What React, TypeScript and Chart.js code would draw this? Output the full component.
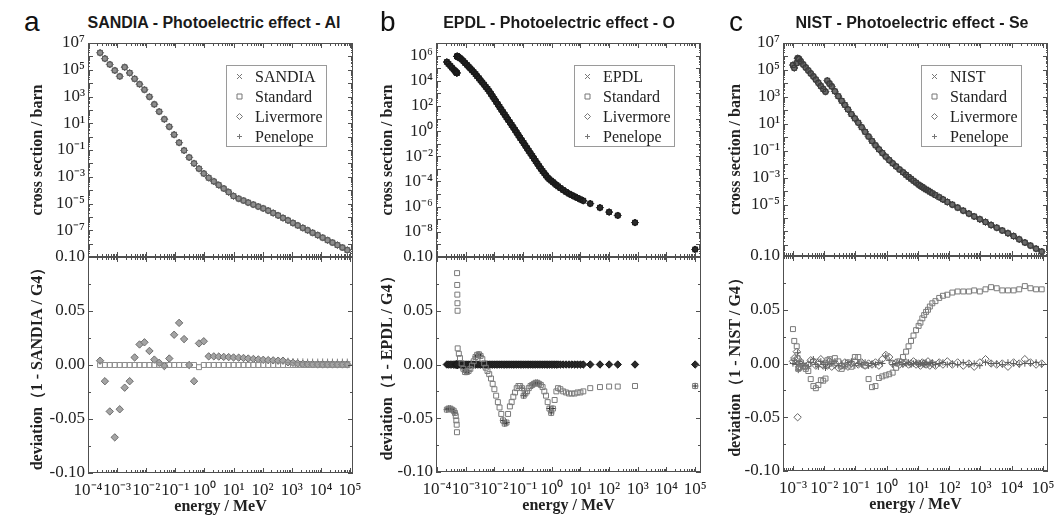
import React, { useEffect, useRef } from 'react';
import { Chart, registerables } from 'chart.js';

Chart.register(...registerables);

// ---------------- DATA ----------------
const MODEL_LABELS = ['Standard', 'Livermore', 'Penelope'];

// Panel a : SANDIA - Al
const energyA = [
  2.6e-4, 3.8e-4, 5.6e-4, 8.3e-4, 1.23e-3, 1.82e-3, 2.7e-3, 4.0e-3, 5.9e-3, 8.7e-3,
  0.0129, 0.019, 0.028, 0.042, 0.062, 0.091, 0.135, 0.2, 0.3, 0.44,
  0.65, 0.95, 1.4, 2.1, 3.1, 4.6, 6.8, 10, 15, 22,
  32, 48, 71, 105, 155, 230, 340, 500, 740, 1100,
  1600, 2400, 3500, 5200, 7800, 11500, 17000, 25000, 37000, 55000, 81000,
];
const sigmaA = [
  1.86e6, 6.8e5, 2.5e5, 8.9e4, 3.2e4, 1.55e5, 5.8e4, 2.1e4, 8.3e3, 3.2e3,
  950, 260, 74, 20, 5.5, 1.4, 0.355, 0.093, 0.028, 0.010,
  0.004, 0.00174, 8.3e-4, 4.5e-4, 2.4e-4, 1.32e-4, 7.1e-5, 3.6e-5, 2.3e-5, 1.66e-5,
  1.17e-5, 8.3e-6, 5.9e-6, 4.3e-6, 2.95e-6, 1.95e-6, 1.29e-6, 8.3e-7, 5.5e-7, 3.5e-7,
  2.3e-7, 1.5e-7, 1.0e-7, 6.5e-8, 4.3e-8, 2.8e-8, 1.8e-8, 1.2e-8, 7.8e-9, 5.1e-9, 3.3e-9,
];
const devStdA = [
  0, 0, 0, 0, 0, 0, 0, 0, 0, 0,
  0, 0, 0, 0, 0, 0, 0, 0, 0, 0,
  -0.002, 0, 0, 0, 0, 0, 0, 0, 0, 0,
  0, 0, 0, 0, 0, 0, 0, 0, 0, 0,
  0, 0, 0, 0, 0, 0, 0, 0, 0, 0, 0,
];
const devLivA = [
  0.004, -0.015, -0.043, -0.067, -0.041, -0.021, -0.015, 0.007, 0.019, 0.021,
  0.013, 0.005, 0.002, -0.001, 0.006, 0.028, 0.039, 0.024, 0.0, -0.015,
  0.02, 0.022, 0.008, 0.008, 0.0078, 0.0075, 0.0073, 0.007, 0.0068, 0.0065,
  0.006, 0.0056, 0.0052, 0.0048, 0.0045, 0.0043, 0.004, 0.004, 0.0025, 0.002,
  0.0015, 0.001, 0.0008, 0.0006, 0.0005, 0.0005, 0.0005, 0.0005, 0.0005, 0.0005, 0.0005,
];
const devPenA = [
  0.004, -0.015, -0.043, -0.067, -0.041, -0.021, -0.015, 0.007, 0.019, 0.021,
  0.013, 0.005, 0.002, -0.001, 0.006, 0.028, 0.039, 0.024, 0.0, -0.015,
  0.02, 0.022, 0.008, 0.008, 0.0078, 0.0075, 0.0073, 0.007, 0.0068, 0.0065,
  0.006, 0.0056, 0.0052, 0.0048, 0.0045, 0.0043, 0.004, 0.004, 0.0038, 0.0035,
  0.0033, 0.0032, 0.003, 0.003, 0.003, 0.0031, 0.003, 0.003, 0.0029, 0.003, 0.003,
];

// Panel b : EPDL - O
const energyB = [
  2.2e-4, 2.5e-4, 2.9e-4, 3.3e-4, 3.8e-4, 4.2e-4, 4.5e-4, 4.7e-4, 4.85e-4, 4.95e-4,
  5.0e-4, 5.05e-4, 5.1e-4, 5.15e-4, 5.2e-4, 5.25e-4, 5.75e-4, 6.3e-4, 7.2e-4, 8.3e-4,
  9.5e-4, 1.1e-3, 1.26e-3, 1.45e-3, 1.66e-3, 1.9e-3, 2.2e-3, 2.5e-3, 2.9e-3, 3.3e-3,
  3.8e-3, 4.4e-3, 5.0e-3, 5.75e-3, 6.6e-3, 7.6e-3, 8.7e-3, 0.01, 0.0115, 0.0132,
  0.0151, 0.0174, 0.02, 0.023, 0.0263, 0.03, 0.0347, 0.04, 0.0457, 0.0525,
  0.06, 0.069, 0.079, 0.091, 0.105, 0.12, 0.138, 0.158, 0.182, 0.209,
  0.24, 0.275, 0.316, 0.363, 0.417, 0.479, 0.55, 0.63, 0.72, 0.83,
  0.955, 1.1, 1.26, 1.45, 1.66, 2.0, 2.5, 3.16, 4.0, 5.0,
  6.3, 7.9, 10, 12.6, 22, 48, 100, 200, 800, 1e5,
];
const sigmaB = [
  3.1e5, 2.2e5, 1.55e5, 1.1e5, 7.8e4, 6.2e4, 5.2e4, 4.7e4, 4.2e4, 4.1e4,
  8.9e5, 8.7e5, 8.7e5, 8.5e5, 8.3e5, 8.3e5, 7.2e5, 6.2e5, 5.0e5, 3.6e5,
  2.57e5, 1.85e5, 1.32e5, 9.5e4, 6.8e4, 4.9e4, 3.4e4, 2.3e4, 1.57e4, 1.07e4,
  7.2e3, 4.9e3, 3.3e3, 2.26e3, 1.47e3, 910, 564, 350, 217, 135,
  84, 52, 32, 20, 12.7, 8.0, 5.0, 3.1, 1.96, 1.23,
  0.76, 0.47, 0.29, 0.18, 0.113, 0.07, 0.0436, 0.027, 0.017, 0.0106,
  6.65e-3, 4.17e-3, 2.6e-3, 1.64e-3, 1.02e-3, 6.7e-4, 4.5e-4, 3.0e-4, 2.04e-4, 1.5e-4,
  1.15e-4, 8.9e-5, 6.8e-5, 5.25e-5, 4.1e-5, 3.0e-5, 2.1e-5, 1.48e-5, 1.06e-5, 8.2e-6,
  6.3e-6, 4.9e-6, 3.76e-6, 2.96e-6, 1.74e-6, 8.3e-7, 3.7e-7, 2.0e-7, 5.4e-8, 4.0e-10,
];
const devStdB = [
  -0.042, -0.041, -0.041, -0.042, -0.043, -0.045, -0.048, -0.052, -0.056, -0.063,
  0.085, 0.074, 0.065, 0.057, 0.05, 0.015, 0.01, 0.006, 0.001, -0.004,
  -0.007, -0.007, -0.006, -0.004, -0.001, 0.003, 0.007, 0.009, 0.0095, 0.008,
  0.005, 0.001, -0.003, -0.006, -0.009, -0.013, -0.018, -0.023, -0.029, -0.035,
  -0.04, -0.046, -0.052, -0.055, -0.054, -0.046, -0.039, -0.035, -0.03, -0.026,
  -0.022, -0.02, -0.02, -0.022, -0.029, -0.027, -0.025, -0.022, -0.02, -0.019,
  -0.018, -0.017, -0.017, -0.018, -0.019, -0.021, -0.025, -0.029, -0.035, -0.041,
  -0.045, -0.041, -0.033, -0.025, -0.022, -0.023, -0.025, -0.026, -0.027, -0.027,
  -0.027, -0.026, -0.026, -0.025, -0.022, -0.021, -0.0205, -0.0205, -0.02, -0.02,
];
const devLivB = [
  0, 0, 0, 0, 0, 0, 0, 0, 0, 0,
  0, 0, 0, 0, 0, 0, 0, 0, 0, 0,
  0, 0, 0, 0, 0, 0, 0, 0, 0, 0,
  0, 0, 0, 0, 0, 0, 0, 0, 0, 0,
  0, 0, 0, 0, 0, 0, 0, 0, 0, 0,
  0, 0, 0, 0, 0, 0, 0, 0, 0, 0,
  0, 0, 0, 0, 0, 0, 0, 0, 0, 0,
  0, 0, 0, 0, 0, 0, 0, 0, 0, 0,
  0, 0, 0, 0, 0, 0, 0, 0, 0, 0,
];
const devPenB = [
  -0.042, -0.041, -0.041, -0.042, -0.043, -0.045, 0, 0, 0, 0,
  0, 0, 0, 0, 0, 0, 0, 0, 0, -0.004,
  -0.007, -0.007, -0.006, 0, 0, 0, 0.007, 0.009, 0.0095, 0.008,
  0, 0, 0, 0, 0, 0, 0, 0, 0, 0,
  0, 0, -0.052, -0.055, -0.054, 0, 0, 0, 0, 0,
  0, 0, 0, -0.022, -0.029, -0.027, 0, 0, 0, -0.019,
  -0.018, -0.017, -0.017, -0.018, 0, 0, 0, 0, 0, -0.041,
  -0.045, -0.041, 0, 0, 0, 0, 0, 0, 0, 0,
  0, 0, 0, 0, 0, 0, 0, 0, 0, -0.02,
];

// Panel c : NIST - Se
const energyC = [
  1.0e-3, 1.1e-3, 1.32e-3, 1.41e-3, 1.48e-3, 1.58e-3, 1.78e-3, 2.14e-3, 2.57e-3, 3.1e-3,
  3.7e-3, 4.5e-3, 5.4e-3, 6.5e-3, 7.8e-3, 9.3e-3, 0.011, 0.0126, 0.0148, 0.0174,
  0.0219, 0.0282, 0.0363, 0.0457, 0.0575, 0.0741, 0.0955, 0.123, 0.158, 0.204,
  0.263, 0.339, 0.437, 0.562, 0.724, 0.933, 1.2, 1.55, 2.0, 2.57,
  3.31, 4.17, 5.0, 6.0, 7.2, 8.7, 10.5, 12, 13.8, 15.8,
  18.2, 20.9, 24, 28.8, 36.3, 47.9, 63, 87, 126, 186,
  282, 427, 631, 955, 1450, 2190, 3310, 5010, 7590, 11500,
  17400, 26300, 39800, 60300, 91200,
];
const sigmaC = [
  2.3e5, 1.4e5, 3.2e5, 7.4e5, 7.1e5, 6.3e5, 4.2e5, 2.5e5, 1.5e5, 9.1e4,
  5.5e4, 3.3e4, 1.9e4, 1.1e4, 6.3e3, 3.8e3, 2.4e3, 1.6e4, 9.5e3, 5.9e3,
  2.6e3, 1.12e3, 500, 250, 117, 52, 25, 12, 5.5, 2.5,
  1.12, 0.52, 0.25, 0.126, 0.068, 0.036, 0.02, 0.0115, 6.8e-3, 4.0e-3,
  2.5e-3, 1.6e-3, 1.12e-3, 8.1e-4, 5.8e-4, 4.2e-4, 3.0e-4, 2.45e-4, 2.0e-4, 1.6e-4,
  1.3e-4, 1.1e-4, 8.9e-5, 6.9e-5, 5.0e-5, 3.5e-5, 2.4e-5, 1.55e-5, 9.8e-6, 5.9e-6,
  3.5e-6, 2.1e-6, 1.3e-6, 8.1e-7, 5.0e-7, 3.0e-7, 1.9e-7, 1.17e-7, 7.4e-8, 4.5e-8,
  2.6e-8, 1.5e-8, 8.9e-9, 5.2e-9, 3.2e-9,
];
const devStdC = [
  0.032, 0.021, 0.016, 0.005, -0.005, -0.004, 0.001, -0.003, -0.005, -0.007,
  -0.0145, -0.021, -0.023, -0.02, -0.0155, -0.016, -0.014, 0.003, 0.004, 0.001,
  0.005, 0.002, -0.005, -0.002, 0.001, -0.003, 0.006, 0.006, 0.0, -0.002,
  -0.0145, -0.022, -0.021, -0.0135, -0.012, -0.011, -0.01, -0.0085, -0.004, 0.002,
  0.006, 0.011, 0.016, 0.021, 0.026, 0.031, 0.035, 0.038, 0.042, 0.045,
  0.048, 0.05, 0.053, 0.056, 0.058, 0.061, 0.063, 0.064, 0.066, 0.067,
  0.067, 0.067, 0.068, 0.067, 0.069, 0.071, 0.07, 0.068, 0.068, 0.068,
  0.069, 0.072, 0.07, 0.069, 0.069,
];
const devLivC = [
  0.002, 0.005, 0.011, -0.05, 0.004, -0.003, -0.001, -0.002, -0.003, -0.001,
  0.003, 0.002, -0.002, 0.001, 0.004, -0.002, 0.0, -0.002, 0.002, -0.003,
  -0.001, -0.004, -0.002, 0.001, -0.003, 0.0, 0.002, -0.001, 0.001, -0.002,
  0.0, -0.001, 0.001, -0.002, 0.004, 0.008, 0.006, 0.0, 0.001, -0.001,
  0.0, 0.001, -0.001, 0.0, 0.002, -0.001, 0.0, -0.002, 0.001, 0.0,
  -0.001, 0.002, -0.002, 0.0, -0.002, 0.001, -0.001, 0.002, -0.001, 0.001,
  -0.002, 0.0, -0.003, 0.001, 0.004, 0.0, -0.001, 0.0, -0.003, 0.001,
  0.0, 0.004, 0.001, -0.001, 0.0,
];
const devPenC = [
  0.0, 0.003, -0.001, 0.01, -0.006, 0.002, -0.002, 0.0, -0.002, -0.003,
  0.001, 0.004, -0.001, -0.003, 0.002, -0.001, -0.004, 0.001, -0.001, 0.0,
  0.002, -0.002, 0.0, -0.003, 0.001, 0.002, -0.002, 0.0, -0.001, 0.001,
  -0.002, 0.0, -0.001, 0.001, 0.0, 0.007, 0.003, -0.001, 0.0, 0.001,
  -0.001, 0.0, 0.001, -0.001, 0.0, 0.001, -0.001, 0.0, 0.0, -0.001,
  0.001, -0.001, 0.0, 0.001, -0.001, 0.0, 0.001, -0.001, 0.0, -0.001,
  0.001, -0.001, 0.0, -0.002, 0.001, 0.0, 0.0, -0.001, 0.001, 0.0,
  -0.001, 0.0, 0.0, 0.001, -0.001,
];

// Tick labels
const xTickExpAB = [-4, -3, -2, -1, 0, 1, 2, 3, 4, 5];
const xTickExpC = [-3, -2, -1, 0, 1, 2, 3, 4, 5];
const yTickExpA = [7, 5, 3, 1, -1, -3, -5, -7];
const yTickExpB = [6, 4, 2, 0, -2, -4, -6, -8];
const yTickExpC = [7, 5, 3, 1, -1, -3, -5];
const devTicks = [0.1, 0.05, 0, -0.05, -0.1];

// ---------------- STYLE / LAYOUT ----------------
const W = 1064;
const H = 515;
const YW = 62; // y-axis box width
const XH = 42; // x-axis box height
const SERIF = '"Liberation Serif", "Times New Roman", serif';
const SANS = '"Liberation Sans", Arial, sans-serif';
const TICK_FONT = { family: SERIF, size: 17 };
const AXIS_TITLE_FONT = { family: SERIF, size: 16, weight: 'bold', lineHeight: 1 };

const SUP: Record<string, string> = {
  '-': '\u207B', '0': '\u2070', '1': '\u00B9', '2': '\u00B2', '3': '\u00B3',
  '4': '\u2074', '5': '\u2075', '6': '\u2076', '7': '\u2077', '8': '\u2078', '9': '\u2079',
};
const sup = (n: number) => String(n).split('').map((c) => SUP[c]).join('');
const pow10Label = (v: number) => '10' + sup(Math.round(Math.log10(v)));

const PANELS = [
  {
    key: 'a', ref: 'SANDIA', title: 'SANDIA - Photoelectric effect - Al', titleX: 214, letterX: 24,
    geo: { l: 88, r: 353, t: 43, m: 257, b: 473 },
    xMin: 1e-4, xMax: 1.27e5, yMin: 1e-9, yMax: 1e7,
    xExps: xTickExpAB, yExps: yTickExpA,
    energy: energyA, sigma: sigmaA, std: devStdA, liv: devLivA, pen: devPenA,
    topColor: '#5c5c5c', topFill: '#8e8e8e',
    stdColor: '#8c8c8c', livColor: '#6e6e6e', livFill: '#a4a4a4', penColor: '#808080', titlePad: 4,
  },
  {
    key: 'b', ref: 'EPDL', title: 'EPDL - Photoelectric effect - O', titleX: 559, letterX: 380,
    geo: { l: 436, r: 701, t: 43, m: 257, b: 472 },
    xMin: 9.2e-5, xMax: 1.6e5, yMin: 1e-10, yMax: 1e7,
    xExps: xTickExpAB, yExps: yTickExpB,
    energy: energyB, sigma: sigmaB, std: devStdB, liv: devLivB, pen: devPenB,
    topColor: '#1a1a1a', topFill: '#2a2a2a',
    stdColor: '#7a7a7a', livColor: '#1a1a1a', livFill: '#2a2a2a', penColor: '#2a2a2a', titlePad: 6,
  },
  {
    key: 'c', ref: 'NIST', title: 'NIST - Photoelectric effect - Se', titleX: 912, letterX: 729,
    geo: { l: 783, r: 1048, t: 43, m: 256, b: 471 },
    xMin: 4.8e-4, xMax: 1.45e5, yMin: 1.5e-9, yMax: 1e7,
    xExps: xTickExpC, yExps: yTickExpC,
    energy: energyC, sigma: sigmaC, std: devStdC, liv: devLivC, pen: devPenC,
    topColor: '#3c3c3c', topFill: '#6a6a6a',
    stdColor: '#7a7a7a', livColor: '#666666', livFill: 'rgba(0,0,0,0)', penColor: '#5a5a5a', titlePad: 7,
  },
];

function drawMarker(ctx: any, style: string, x: number, y: number, r: number, color: string) {
  ctx.save();
  ctx.strokeStyle = color;
  ctx.lineWidth = 1;
  ctx.beginPath();
  if (style === 'crossRot') {
    ctx.moveTo(x - r, y - r); ctx.lineTo(x + r, y + r);
    ctx.moveTo(x + r, y - r); ctx.lineTo(x - r, y + r);
  } else if (style === 'rect') {
    ctx.rect(x - r, y - r, 2 * r, 2 * r);
  } else if (style === 'rectRot') {
    ctx.moveTo(x, y - r - 0.5); ctx.lineTo(x + r + 0.5, y); ctx.lineTo(x, y + r + 0.5); ctx.lineTo(x - r - 0.5, y);
    ctx.closePath();
  } else {
    ctx.moveTo(x - r, y); ctx.lineTo(x + r, y);
    ctx.moveTo(x, y - r); ctx.lineTo(x, y + r);
  }
  ctx.stroke();
  ctx.restore();
}

function frameTicksPlugin() {
  return {
    id: 'frameTicks',
    afterDatasetsDraw(chart: any) {
      const { ctx, chartArea } = chart;
      const { left, top, right, bottom } = chartArea;
      ctx.save();
      ctx.strokeStyle = '#505050';
      ctx.lineWidth = 1;
      ctx.beginPath();
      const xs = chart.scales.x;
      const lo = Math.floor(Math.log10(xs.min));
      const hi = Math.ceil(Math.log10(xs.max));
      for (let e = lo; e <= hi; e++) {
        for (let k = 1; k <= 9; k++) {
          const v = k * Math.pow(10, e);
          if (v < xs.min * 0.999 || v > xs.max * 1.001) continue;
          const px = Math.round(xs.getPixelForValue(v)) + 0.5;
          const len = k === 1 ? 5 : 3;
          ctx.moveTo(px, top); ctx.lineTo(px, top + len);
          ctx.moveTo(px, bottom); ctx.lineTo(px, bottom - len);
        }
      }
      const ys = chart.scales.y;
      if (ys.type === 'logarithmic') {
        const ylo = Math.floor(Math.log10(ys.min));
        const yhi = Math.ceil(Math.log10(ys.max));
        for (let e = ylo; e <= yhi; e++) {
          for (let k = 1; k <= 9; k++) {
            const v = k * Math.pow(10, e);
            if (v < ys.min * 0.999 || v > ys.max * 1.001) continue;
            const py = Math.round(ys.getPixelForValue(v)) + 0.5;
            const len = k === 1 ? 5 : 2;
            ctx.moveTo(left, py); ctx.lineTo(left + len, py);
            ctx.moveTo(right, py); ctx.lineTo(right - len, py);
          }
        }
      } else {
        for (let i = -4; i <= 4; i++) {
          const v = i * 0.025;
          const py = Math.round(ys.getPixelForValue(v)) + 0.5;
          const len = i % 2 === 0 ? 5 : 3;
          ctx.moveTo(left, py); ctx.lineTo(left + len, py);
          ctx.moveTo(right, py); ctx.lineTo(right - len, py);
        }
      }
      ctx.stroke();
      ctx.strokeRect(left + 0.5, top + 0.5, right - left - 1, bottom - top - 1);
      ctx.restore();
    },
  };
}

const LEGEND_STYLES = ['crossRot', 'rect', 'rectRot', 'cross'];

function legendPlugin(labels: string[]) {
  return {
    id: 'insideLegend',
    afterDatasetsDraw(chart: any) {
      const { ctx, chartArea } = chart;
      const w = 100;
      const h = 81;
      const x0 = Math.round(chartArea.right - 27 - w);
      const y0 = Math.round(chartArea.top + 22);
      ctx.save();
      ctx.fillStyle = '#ffffff';
      ctx.fillRect(x0, y0, w, h);
      ctx.strokeStyle = '#9a9a9a';
      ctx.lineWidth = 1;
      ctx.strokeRect(x0 + 0.5, y0 + 0.5, w, h);
      ctx.font = `16px ${SERIF}`;
      ctx.fillStyle = '#222';
      ctx.textBaseline = 'middle';
      ctx.textAlign = 'left';
      labels.forEach((lab, i) => {
        const cy = y0 + 11.5 + i * 20;
        drawMarker(ctx, LEGEND_STYLES[i], x0 + 13.5, cy, 2.5, '#777');
        ctx.fillText(lab, x0 + 29, cy + 1);
      });
      ctx.restore();
    },
  };
}

function pts(xs: number[], ys: number[]) {
  return xs.map((x, i) => ({ x, y: ys[i] }));
}

function topConfig(p: any) {
  const ds = (label: string, style: string, r: number, fill: string) => ({
    label,
    data: pts(p.energy, p.sigma),
    pointStyle: style,
    pointRadius: r,
    pointBorderWidth: 1,
    borderColor: p.topColor,
    pointBorderColor: p.topColor,
    backgroundColor: fill,
    pointBackgroundColor: fill,
    showLine: false,
  });
  return {
    type: 'scatter',
    data: {
      datasets: [
        ds(MODEL_LABELS[0], 'rect', 3.4, 'rgba(0,0,0,0)'),
        ds(MODEL_LABELS[1], 'rectRot', 3.5, p.topFill),
        ds(MODEL_LABELS[2], 'cross', 3.2, 'rgba(0,0,0,0)'),
        ds(p.ref, 'crossRot', 3.2, 'rgba(0,0,0,0)'),
      ],
    },
    options: {
      responsive: false,
      animation: false,
      devicePixelRatio: 1,
      events: [],
      layout: { padding: { left: p.geo.l - YW, top: p.geo.t, right: W - p.geo.r, bottom: H - p.geo.m } },
      plugins: { legend: { display: false }, tooltip: { enabled: false }, title: { display: false } },
      scales: {
        x: { type: 'logarithmic', min: p.xMin, max: p.xMax, display: false },
        y: {
          type: 'logarithmic', position: 'left', min: p.yMin, max: p.yMax,
          afterFit: (s: any) => { s.width = YW; },
          afterBuildTicks: (s: any) => { s.ticks = p.yExps.map((e: number) => ({ value: Math.pow(10, e) })); },
          grid: { display: false, drawTicks: false },
          border: { display: false },
          ticks: { callback: (v: any) => pow10Label(Number(v)), font: TICK_FONT, color: '#222', padding: 3, autoSkip: false },
          title: {
            display: true, text: 'cross section / barn', color: '#222',
            font: AXIS_TITLE_FONT, padding: { top: p.titlePad, bottom: 0 },
          },
        },
      },
    },
    plugins: [frameTicksPlugin(), legendPlugin([p.ref, ...MODEL_LABELS])],
  };
}

function bottomConfig(p: any) {
  const ds = (label: string, ys: number[], style: string, r: number, color: string, fill: string) => ({
    label,
    data: pts(p.energy, ys),
    pointStyle: style,
    pointRadius: r,
    pointBorderWidth: 1,
    borderColor: color,
    pointBorderColor: color,
    backgroundColor: fill,
    pointBackgroundColor: fill,
    showLine: false,
  });
  return {
    type: 'scatter',
    data: {
      datasets: [
        ds(MODEL_LABELS[0], p.std, 'rect', 3.5, p.stdColor, 'rgba(0,0,0,0)'),
        ds(MODEL_LABELS[1], p.liv, 'rectRot', 3.7, p.livColor, p.livFill),
        ds(MODEL_LABELS[2], p.pen, 'cross', 3.2, p.penColor, 'rgba(0,0,0,0)'),
      ],
    },
    options: {
      responsive: false,
      animation: false,
      devicePixelRatio: 1,
      events: [],
      layout: { padding: { left: p.geo.l - YW, top: p.geo.m, right: W - p.geo.r, bottom: H - p.geo.b - XH } },
      plugins: { legend: { display: false }, tooltip: { enabled: false }, title: { display: false } },
      scales: {
        x: {
          type: 'logarithmic', position: 'bottom', min: p.xMin, max: p.xMax,
          afterFit: (s: any) => { s.height = XH; },
          afterBuildTicks: (s: any) => { s.ticks = p.xExps.map((e: number) => ({ value: Math.pow(10, e) })); },
          grid: { display: false, drawTicks: false },
          border: { display: false },
          ticks: {
            callback: (v: any) => pow10Label(Number(v)), font: TICK_FONT, color: '#222',
            padding: 7, autoSkip: false, maxRotation: 0, minRotation: 0,
          },
          title: {
            display: true, text: 'energy / MeV', color: '#222',
            font: AXIS_TITLE_FONT, padding: { top: 0, bottom: 0 },
          },
        },
        y: {
          type: 'linear', position: 'left', min: -0.1, max: 0.1,
          afterFit: (s: any) => { s.width = YW; },
          afterBuildTicks: (s: any) => { s.ticks = devTicks.map((v) => ({ value: v })); },
          grid: { display: false, drawTicks: false },
          border: { display: false },
          ticks: {
            callback: (v: any) => (Math.abs(Number(v)) < 1e-9 ? '0.00' : Number(v).toFixed(2)),
            font: TICK_FONT, color: '#222', padding: 3, autoSkip: false,
          },
          title: {
            display: true, text: `deviation\uFF081 - ${p.ref} / G4\uFF09`, color: '#222',
            font: AXIS_TITLE_FONT, padding: { top: p.titlePad, bottom: 0 },
          },
        },
      },
    },
    plugins: [frameTicksPlugin()],
  };
}

function ChartCanvas({ build }: { build: () => any }) {
  const ref = useRef<HTMLCanvasElement | null>(null);
  useEffect(() => {
    if (!ref.current) return;
    const chart = new Chart(ref.current, build());
    return () => chart.destroy();
  }, []);
  return (
    <canvas
      ref={ref}
      width={W}
      height={H}
      style={{ position: 'absolute', left: 0, top: 0, width: W, height: H }}
    />
  );
}

export default function App() {
  return (
    <div style={{ position: 'absolute', left: 0, top: 0, width: W, height: H, background: '#fff', overflow: 'hidden' }}>
      {PANELS.map((p) => (
        <React.Fragment key={p.key}>
          <div
            style={{
              position: 'absolute', left: p.letterX, top: 8, fontFamily: `"Liberation Sans Narrow", ${SANS}`,
              fontSize: 28, lineHeight: '28px', color: '#111',
            }}
          >
            {p.key}
          </div>
          <div
            style={{
              position: 'absolute', left: p.titleX - 200, width: 400, top: 13, textAlign: 'center',
              fontFamily: SANS, fontWeight: 'bold', fontSize: 16, lineHeight: '20px', color: '#1a1a1a',
            }}
          >
            {p.title}
          </div>
          <ChartCanvas build={() => topConfig(p)} />
          <ChartCanvas build={() => bottomConfig(p)} />
        </React.Fragment>
      ))}
    </div>
  );
}
